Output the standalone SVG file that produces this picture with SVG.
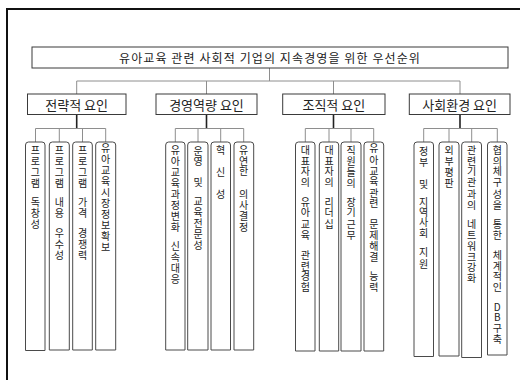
<svg xmlns="http://www.w3.org/2000/svg" width="520" height="380" viewBox="0 0 520 380">
<style>
.frame{fill:none;stroke:#111;stroke-width:2}
.box{fill:#fff;stroke:#3a3a3a;stroke-width:1}
.leaf{fill:#fff;stroke:#4a4a4a;stroke-width:1}
.ln{fill:none;stroke:#8e8e8e;stroke-width:1}
.dk{fill:none;stroke:#222;stroke-width:1.6}
text{font-family:"Noto Sans CJK KR","Noto Sans",sans-serif;fill:#222}
.t0{font-size:12px;letter-spacing:1.1px;text-anchor:middle;dominant-baseline:central}
.t1{font-size:13px;text-anchor:middle;dominant-baseline:central}
.t2{font-size:10px;text-anchor:middle;dominant-baseline:central}
</style>
<rect width="520" height="380" fill="#fff"/>
<rect class="frame" x="7" y="9" width="600" height="500"/>

<g id="connectors">
<path class="ln" d="M269.5 68V81M76.7 81H460M76.7 81V94M206.5 81V94M333.5 81V94M460 81V94"/>
<path class="dk" d="M76.7 114.5V128.5M206.5 114.5V128.5M333.5 114.5V128.5M460 114.5V128.5"/>
<path class="ln" d="M35.5 128.5H105.7M35.5 128.5V142M59.3 128.5V142M82.5 128.5V142M105.7 128.5V142"/>
<path class="ln" d="M175.3 128.5H243.7M175.3 128.5V142M198 128.5V142M220.7 128.5V142M243.7 128.5V142"/>
<path class="ln" d="M305.3 128.5H373.7M305.3 128.5V142M329 128.5V142M351 128.5V142M373.7 128.5V142"/>
<path class="ln" d="M423.7 128.5H497.3M423.7 128.5V142M449 128.5V142M471.7 128.5V142M497.3 128.5V142"/>
</g>

<g id="root">
<rect class="box" x="32" y="47" width="476" height="21"/>
<text class="t0" x="270" y="57.5">유아교육 관련 사회적 기업의 지속경영을 위한 우선순위</text>
</g>

<g id="cat1"><rect class="box" x="27.5" y="94" width="98.5" height="20.5"/><text class="t1" x="76.7" y="104.2">전략적 요인</text></g>
<g id="cat2"><rect class="box" x="156" y="94" width="101" height="20.5"/><text class="t1" x="206.5" y="104.2">경영역량 요인</text></g>
<g id="cat3"><rect class="box" x="282.7" y="94" width="102.3" height="20.5"/><text class="t1" x="333.8" y="104.2">조직적 요인</text></g>
<g id="cat4"><rect class="box" x="409.3" y="94" width="100.7" height="20.5"/><text class="t1" x="459.7" y="104.2">사회환경 요인</text></g>

<g id="s1a"><path class="leaf" d="M25.5 350.5V145Q25.5 142 28.5 142H42Q45 142 45 145V350.5Z"/>
<text class="t2" x="35.3 35.3 35.3 35.3 35.3 35.3 35.3 35.3" y="149 160 171 182 192 201 212 223">프로그램 독창성</text></g>
<g id="s1b"><path class="leaf" d="M49.3 350V145Q49.3 142 52.3 142H66.3Q69.3 142 69.3 145V350Z"/>
<text class="t2" x="59.3 59.3 59.3 59.3 59.3 59.3 59.3 59.3 59.3 59.3 59.3" y="149 160 171 182 192 201 212 222 232 243 254">프로그램 내용 우수성</text></g>
<g id="s1c"><path class="leaf" d="M72.7 350V145Q72.7 142 75.7 142H89.3Q92.3 142 92.3 145V350Z"/>
<text class="t2" x="82.5 82.5 82.5 82.5 82.5 82.5 82.5 82.5 82.5 82.5 82.5" y="149 160 171 182 192 201 212 222 232 243 254">프로그램 가격 경쟁력</text></g>
<g id="s1d"><path class="leaf" d="M95.7 350V145Q95.7 142 98.7 142H112.7Q115.7 142 115.7 145V350Z"/>
<text class="t2" x="105.7 105.7 105.7 105.7 105.7 105.7 105.7 105.7 105.7 105.7" y="147.5 158.5 169.5 180.5 191.5 202.5 213.5 224.5 235.5 246.5">유아교육시장정보확보</text></g>

<g id="s2a"><path class="leaf" d="M165.7 350V145Q165.7 142 168.7 142H182Q185 142 185 145V350Z"/>
<text class="t2" x="175.3 175.3 175.3 175.3 175.3 175.3 175.3 175.3 175.3 175.3 175.3 175.3 175.3" y="149 160 171 182 193 204 215 226 235 245 256 267 278">유아교육과정변화 신속대응</text></g>
<g id="s2b"><path class="leaf" d="M187.7 350V145Q187.7 142 190.7 142H205Q208 142 208 145V350Z"/>
<text class="t2" x="198 198 198 198 198 198 198 198 198 198" y="150 160 171 181.5 191 200 211.5 222.5 233.5 244">운영 및 교육전문성</text></g>
<g id="s2c"><path class="leaf" d="M211 350V145Q211 142 214 142H227.5Q230.5 142 230.5 145V350Z"/>
<text class="t2" x="220.7 220.7 220.7 220.7 220.7" y="149.3 160.5 171.7 182.5 193.3">혁 신 성</text></g>
<g id="s2d"><path class="leaf" d="M234 350V145Q234 142 237 142H250.7Q253.7 142 253.7 145V350Z"/>
<text class="t2" x="243.7 243.7 243.7 243.7 243.7 243.7 243.7 243.7" y="149.3 160 170.7 182 193.3 204 215 226">유연한 의사결정</text></g>

<g id="s3a"><path class="leaf" d="M295.5 351V145Q295.5 142 298.5 142H312Q315 142 315 145V351Z"/>
<text class="t2" x="305.3 305.3 305.3 305.3 305.3 305.3 305.3 305.3 305.3 305.3 305.3 305.3 305.3 305.3" y="149.3 160 170.7 181.7 191 201 211.7 223 234 244 254 265 275.7 286.7">대표자의 유아교육 관련경험</text></g>
<g id="s3b"><path class="leaf" d="M319.3 351V145Q319.3 142 322.3 142H335.7Q338.7 142 338.7 145V351Z"/>
<text class="t2" x="329 329 329 329 329 329 329 329" y="149.3 160 170.7 181.7 191 201 211.7 223">대표자의 리더십</text></g>
<g id="s3c"><path class="leaf" d="M341 351V145Q341 142 344 142H358Q361 142 361 145V351Z"/>
<text class="t2" x="351 351 351 351 351 351 351 351 351" y="149.3 160 171.5 182 191.5 201 211.7 223 234">직원들의 장기근무</text></g>
<g id="s3d"><path class="leaf" d="M364 351V145Q364 142 367 142H380.7Q383.7 142 383.7 145V351Z"/>
<text class="t2" x="373.8 373.8 373.8 373.8 373.8 373.8 373.8 373.8 373.8 373.8 373.8 373.8 373.8 373.8" y="147.3 159 170 180.7 192.3 202.7 213 223.3 234 245 256 266 275.7 286.7">유아교육관련 문제해결 능력</text></g>

<g id="s4a"><path class="leaf" d="M414 356.5V145Q414 142 417 142H430.5Q433.5 142 433.5 145V356.5Z"/>
<text class="t2" x="423.7 423.7 423.7 423.7 423.7 423.7 423.7 423.7 423.7 423.7 423.7 423.7" y="150.7 161 172 183.3 192 201 211.7 221.7 232.3 242 251.7 263.3">정부 및 지역사회 지원</text></g>
<g id="s4b"><path class="leaf" d="M439 356V145Q439 142 442 142H456Q459 142 459 145V356Z"/>
<text class="t2" x="449 449 449 449" y="149.3 160 171.7 182.3">외부평판</text></g>
<g id="s4c"><path class="leaf" d="M461.7 357.5V145Q461.7 142 464.7 142H478.5Q481.5 142 481.5 145V357.5Z"/>
<text class="t2" x="471.7 471.7 471.7 471.7 471.7 471.7 471.7 471.7 471.7 471.7 471.7 471.7 471.7" y="149.3 160 170.7 181.7 193.3 204 213.5 223.3 234 245 256 266.7 277.3">관련기관과의 네트워크강화</text></g>
<g id="s4d"><path class="leaf" d="M487.5 355V145Q487.5 142 490.5 142H504Q507 142 507 145V355Z"/>
<text class="t2" x="497.3 497.3 497.3 497.3 497.3 497.3 497.3 497.3 497.3 497.3 497.3 497.3 497.3 497.3 497.3 497.3 497.3 497.3 497.3" y="149.3 160 170.7 181.7 193.3 204 213.5 223.3 234 244 254 265 275.7 286.7 297 306.7 316.7 327.3 338.3">협의체구성을 통한 체계적인 DB구축</text></g>
</svg>
